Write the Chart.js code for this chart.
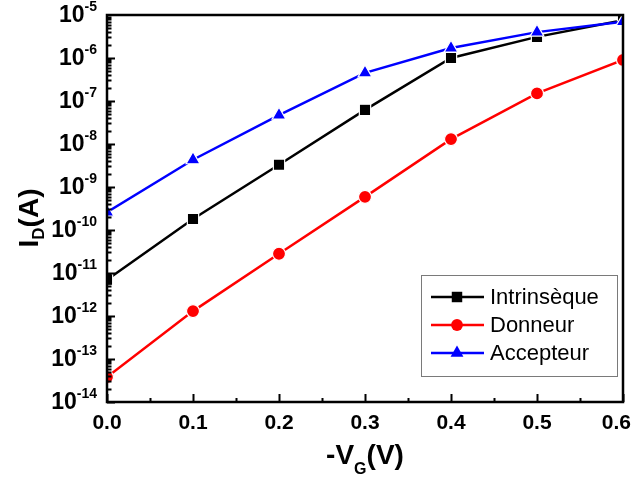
<!DOCTYPE html>
<html>
<head>
<meta charset="utf-8">
<script src="https://cdn.jsdelivr.net/npm/chart.js@4.4.0/dist/chart.umd.min.js"></script>
<style>
  html, body { margin: 0; padding: 0; background: #fff; }
</style>
</head>
<body>
<canvas id="chart" width="640" height="479"></canvas>
<script>
// Données
const vg = [0, 0.1, 0.2, 0.3, 0.4, 0.5, 0.6];
const intrinseque = [7e-12, 1.8e-10, 3.3e-9, 6.2e-8, 1.0e-6, 3.1e-6, 7.6e-6];
const donneur = [3.8e-14, 1.3e-12, 2.8e-11, 5.9e-10, 1.3e-8, 1.5e-7, 9e-7];
const accepteur = [2.6e-10, 4.3e-9, 4.7e-8, 4.5e-7, 1.7e-6, 4.0e-6, 7.0e-6];

const xTickValues = [0, 0.1, 0.2, 0.3, 0.4, 0.5, 0.6];
const xTickLabels = ['0.0', '0.1', '0.2', '0.3', '0.4', '0.5', '0.6'];
const yExponents = [-14, -13, -12, -11, -10, -9, -8, -7, -6, -5];

const FONT = '"Liberation Sans", Arial, sans-serif';

function pts(arr) {
  return vg.map((x, i) => ({ x: x, y: arr[i] }));
}

// dessine un marqueur pour la légende
function marker(ctx, style, x, y, r, color) {
  ctx.fillStyle = color;
  ctx.beginPath();
  if (style === 'rect') {
    const s = r * Math.SQRT1_2;
    ctx.rect(x - s, y - s, 2 * s, 2 * s);
  } else if (style === 'circle') {
    ctx.arc(x, y, r, 0, Math.PI * 2);
  } else {
    for (let k = 0; k < 3; k++) {
      const ang = k * 2 * Math.PI / 3;
      const px = x + Math.sin(ang) * r, py = y - Math.cos(ang) * r;
      if (k === 0) ctx.moveTo(px, py); else ctx.lineTo(px, py);
    }
    ctx.closePath();
  }
  ctx.fill();
}

const decorations = {
  id: 'decorations',
  afterDatasetsDraw(chart) {
    const { ctx, chartArea: a, scales: { x, y } } = chart;
    ctx.save();
    ctx.strokeStyle = '#000';
    ctx.lineWidth = 2;
    ctx.beginPath();
    // graduations y (log)
    for (let e = -14; e <= -6; e++) {
      for (let m = 1; m <= 9; m++) {
        const py = Math.round(y.getPixelForValue(m * Math.pow(10, e))) + 0.5;
        const len = m === 1 ? 8 : 4.5;
        ctx.moveTo(a.left, py);
        ctx.lineTo(a.left + len, py);
      }
    }
    // graduations x
    for (let i = 0; i <= 12; i++) {
      const px = Math.round(x.getPixelForValue(i * 0.05)) + 0.5;
      const len = i % 2 === 0 ? 8 : 4;
      ctx.moveTo(px, a.bottom);
      ctx.lineTo(px, a.bottom - len);
    }
    ctx.stroke();
    // cadre
    ctx.lineWidth = 2.5;
    ctx.strokeRect(a.left, a.top, a.right - a.left, a.bottom - a.top);
    ctx.restore();
  },
  afterDraw(chart) {
    const { ctx, chartArea: a, scales: { x, y } } = chart;
    const ds = chart.data.datasets;
    ctx.save();
    ctx.fillStyle = '#000';
    ctx.textBaseline = 'middle';

    // étiquettes x
    ctx.font = 'bold 21px ' + FONT;
    ctx.textAlign = 'center';
    xTickValues.forEach((v, i) => {
      const w = ctx.measureText(xTickLabels[i]).width;
      let px = x.getPixelForValue(v);
      px = Math.min(px, 631 - w / 2);
      ctx.fillText(xTickLabels[i], px, a.bottom + 21);
    });

    // étiquettes y : 10^n
    yExponents.forEach(e => {
      const py = y.getPixelForValue(Math.pow(10, e));
      const right = a.left - 10;
      ctx.font = 'bold 14px ' + FONT;
      ctx.textAlign = 'right';
      const expTxt = '-' + Math.abs(e);
      const ew = ctx.measureText(expTxt).width;
      ctx.fillText(expTxt, right, py - 8);
      ctx.font = 'bold 23px ' + FONT;
      ctx.fillText('10', right - ew, py + 1);
    });

    // titre y : I_D(A)
    ctx.save();
    ctx.translate(30, 218);
    ctx.rotate(-Math.PI / 2);
    ctx.textAlign = 'left';
    ctx.font = 'bold 28px ' + FONT;
    const wI = ctx.measureText('I').width;
    const wA = ctx.measureText('(A)').width;
    ctx.font = 'bold 17px ' + FONT;
    const wD = ctx.measureText('D').width;
    let cx = -(wI + wD + wA) / 2;
    ctx.font = 'bold 28px ' + FONT;
    ctx.fillText('I', cx, 0);
    cx += wI;
    ctx.font = 'bold 17px ' + FONT;
    ctx.fillText('D', cx, 9);
    cx += wD;
    ctx.font = 'bold 28px ' + FONT;
    ctx.fillText('(A)', cx, 0);
    ctx.restore();

    // titre x : -V_G(V)
    ctx.textAlign = 'left';
    ctx.font = 'bold 28px ' + FONT;
    const w1 = ctx.measureText('-V').width;
    const w3 = ctx.measureText('(V)').width;
    ctx.font = 'bold 16px ' + FONT;
    const w2 = ctx.measureText('G').width;
    let tx = (a.left + a.right) / 2 - (w1 + w2 + w3) / 2;
    const ty = 456;
    ctx.font = 'bold 28px ' + FONT;
    ctx.fillText('-V', tx, ty);
    tx += w1;
    ctx.font = 'bold 16px ' + FONT;
    ctx.fillText('G', tx, ty + 14);
    tx += w2;
    ctx.font = 'bold 28px ' + FONT;
    ctx.fillText('(V)', tx, ty);

    // légende encadrée
    const bx = 421, by = 275, bw = 196, bh = 101;
    ctx.strokeStyle = '#7a7a7a';
    ctx.lineWidth = 1;
    ctx.strokeRect(bx + 0.5, by + 0.5, bw, bh);
    ctx.font = '22px ' + FONT;
    ds.forEach((d, i) => {
      const ry = by + 22 + i * 28;
      ctx.strokeStyle = d.borderColor;
      ctx.lineWidth = 2.5;
      ctx.beginPath();
      ctx.moveTo(bx + 10, ry);
      ctx.lineTo(bx + 63, ry);
      ctx.stroke();
      marker(ctx, d.pointStyle, bx + 36, ry, d.pointRadius - 0.6, d.backgroundColor);
      ctx.fillStyle = '#000';
      ctx.textAlign = 'left';
      ctx.fillText(d.label, bx + 69, ry + 1);
    });
    ctx.restore();
  }
};

function serie(label, arr, color, style, radius, order) {
  return {
    label: label,
    data: pts(arr),
    borderColor: color,
    backgroundColor: color,
    borderWidth: 2.5,
    pointStyle: style,
    pointRadius: radius,
    pointBorderColor: '#fff',
    pointBorderWidth: 1.2,
    tension: 0,
    clip: 0,
    order: order
  };
}

new Chart(document.getElementById('chart'), {
  type: 'line',
  data: {
    datasets: [
      serie('Intrinsèque', intrinseque, '#000000', 'rect', 8, 1),
      serie('Donneur', donneur, '#ff0000', 'circle', 6.5, 2),
      serie('Accepteur', accepteur, '#0000ff', 'triangle', 8, 0)
    ]
  },
  options: {
    responsive: false,
    animation: false,
    layout: { padding: { top: 15, right: 17, left: 0, bottom: 0 } },
    plugins: { legend: { display: false }, tooltip: { enabled: false } },
    scales: {
      x: {
        type: 'linear',
        min: 0,
        max: 0.6,
        afterBuildTicks: s => { s.ticks = xTickValues.map(v => ({ value: v })); },
        afterFit: s => { s.height = 77; s.paddingRight = 0; s.paddingLeft = 0; },
        grid: { display: false, drawTicks: false },
        border: { display: false },
        ticks: { display: false }
      },
      y: {
        type: 'logarithmic',
        min: 1e-14,
        max: 1e-5,
        afterFit: s => { s.width = 107; s.paddingTop = 0; s.paddingBottom = 0; },
        grid: { display: false, drawTicks: false },
        border: { display: false },
        ticks: { display: false }
      }
    }
  },
  plugins: [decorations]
});
</script>
</body>
</html>
